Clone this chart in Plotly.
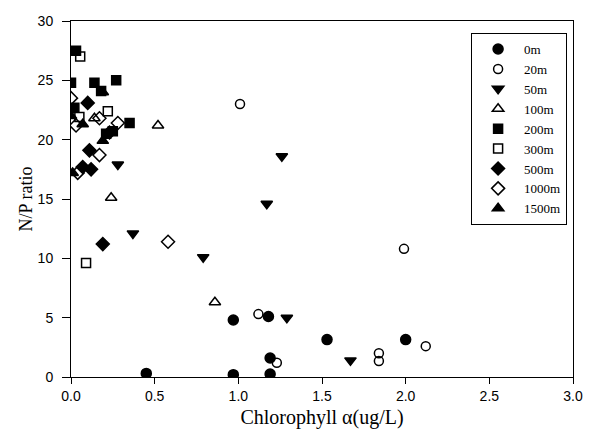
import plotly.graph_objects as go

# ---- data (Chlorophyll a, N/P ratio) per depth ----
x_0m = [0.45, 0.97, 1.19, 0.97, 1.18, 1.19, 1.53, 2.00]
y_0m = [0.3, 0.2, 0.25, 4.8, 5.1, 1.6, 3.15, 3.15]

x_20m = [1.01, 1.12, 1.23, 1.99, 1.84, 1.84, 2.12]
y_20m = [23.0, 5.3, 1.2, 10.8, 2.0, 1.35, 2.6]

x_50m = [0.28, 0.37, 0.79, 1.17, 1.26, 1.29, 1.67]
y_50m = [17.9, 12.1, 10.1, 14.6, 18.6, 5.0, 1.4]

x_100m = [0.14, 0.52, 0.24, 0.86]
y_100m = [21.8, 21.2, 15.1, 6.3]

x_200m = [0.03, 0.0, 0.14, 0.27, 0.18, 0.02, 0.35, 0.21, 0.25]
y_200m = [27.5, 24.8, 24.8, 25.0, 24.1, 22.7, 21.4, 20.5, 20.7]

x_300m = [0.055, 0.05, 0.22, 0.09]
y_300m = [27.0, 21.9, 22.4, 9.6]

x_500m = [0.10, 0.11, 0.07, 0.12, 0.19, 0.23]
y_500m = [23.1, 19.1, 17.7, 17.5, 11.2, 20.6]

x_1000m = [0.0, 0.03, 0.17, 0.28, 0.17, 0.04, 0.58]
y_1000m = [23.5, 21.2, 21.8, 21.4, 18.7, 17.2, 11.4]

x_1500m = [0.19, 0.0, 0.07, 0.19, 0.01]
y_1500m = [24.0, 22.0, 21.3, 19.9, 17.2]

series = [
    ("0m", x_0m, y_0m, "circle", 10),
    ("20m", x_20m, y_20m, "circle-open", 9),
    ("50m", x_50m, y_50m, "triangle-down", 10),
    ("100m", x_100m, y_100m, "triangle-up-open", 10),
    ("200m", x_200m, y_200m, "square", 9),
    ("300m", x_300m, y_300m, "square-open", 9),
    ("500m", x_500m, y_500m, "diamond", 10),
    ("1000m", x_1000m, y_1000m, "diamond-open", 10),
    ("1500m", x_1500m, y_1500m, "triangle-up", 10),
]

fig = go.Figure()
for name, xs, ys, sym, sz in series:
    fig.add_trace(go.Scatter(
        x=xs, y=ys, mode="markers", name=name,
        marker=dict(symbol=sym, size=sz, color="black",
                    line=dict(color="black", width=1.5)),
    ))

axis_common = dict(
    showgrid=False, zeroline=False, showline=True, linecolor="black",
    linewidth=1, mirror=True, ticks="outside", tickcolor="black",
    tickfont=dict(family="Liberation Sans, Arial", size=14, color="black"),
)

serif = "Liberation Serif, Times New Roman"

fig.update_layout(
    width=606, height=437,
    margin=dict(l=71, r=33, t=21, b=58),
    paper_bgcolor="white", plot_bgcolor="white",
    xaxis=dict(range=[0, 3], dtick=0.5, tickformat=".1f", ticklen=6,
               title=dict(text="Chlorophyll α(ug/L)",
                          font=dict(family=serif, size=20, color="black"),
                          standoff=7),
               **axis_common),
    yaxis=dict(range=[0, 30], dtick=5, ticklen=8, ticklabelstandoff=6,
               title=dict(text="N/P ratio",
                          font=dict(family=serif, size=18, color="black"),
                          standoff=0),
               **axis_common),
    legend=dict(x=0.797, y=0.966, xanchor="left", yanchor="top",
                bordercolor="black", borderwidth=1, bgcolor="white",
                font=dict(family=serif, size=13, color="black"),
                itemwidth=42, tracegroupgap=0),
    showlegend=True,
)

fig.write_html("out.html")
